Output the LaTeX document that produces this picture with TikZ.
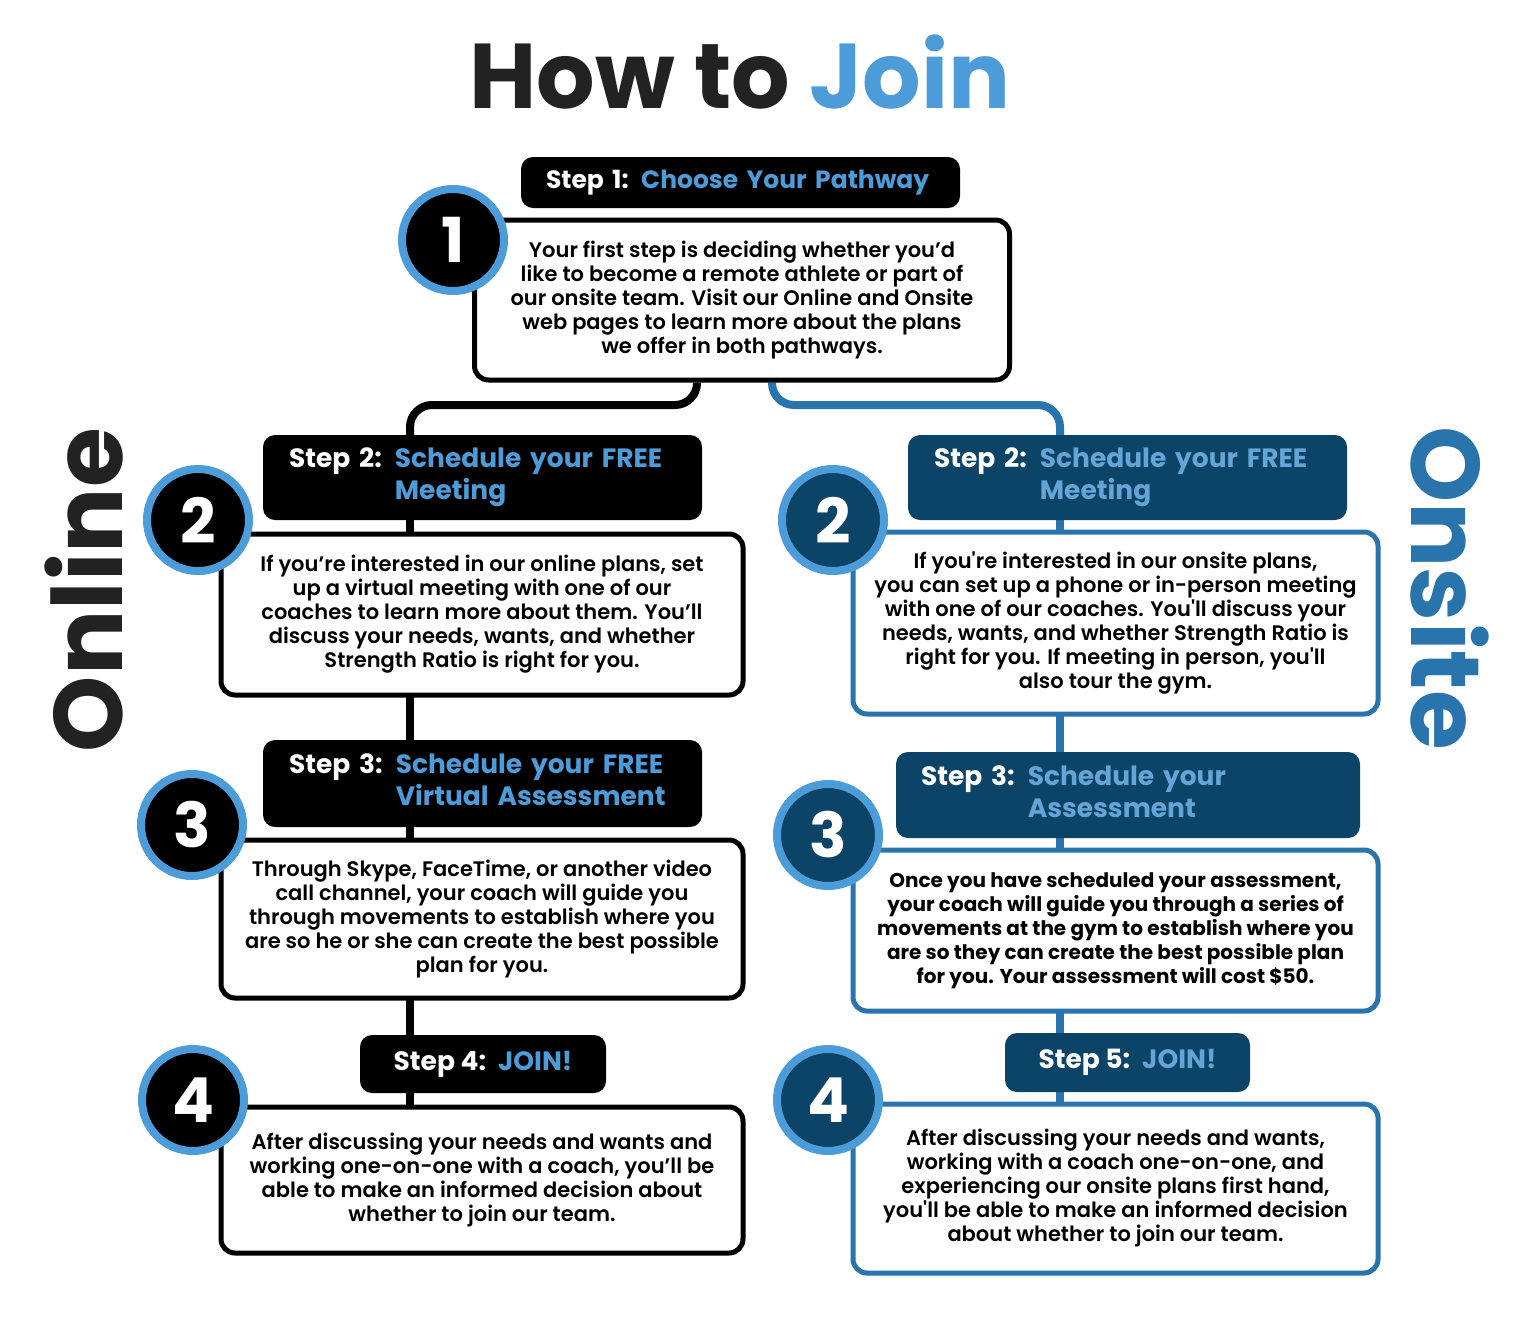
\documentclass[tikz,border=0pt]{standalone}
\usepackage{fontspec}
\setmainfont{Poppins}
\newfontfamily\semi{Poppins SemiBold}
\newfontfamily\bfam{Poppins Bold}
\usetikzlibrary{calc}
\definecolor{lblue}{HTML}{4B9CD8}
\definecolor{navy}{HTML}{0C4467}
\definecolor{mblue}{HTML}{2A74AE}
\definecolor{ink}{HTML}{222222}
\definecolor{ntxt}{HTML}{64A4D6}
\pgfdeclarelayer{back}
\pgfdeclarelayer{bg}
\pgfsetlayers{back,bg,main}
\tikzset{
  txtbox/.style={draw=black, line width=5pt, fill=white, rounded corners=14pt, align=center,
    font=\semi\fontsize{21}{24}\selectfont, text=black, inner sep=0pt},
  obox/.style={txtbox, draw=mblue},
  hdrbox/.style={fill=black, rounded corners=12pt, text=white, align=left,
    font=\bfam\fontsize{26.5}{32}\selectfont, inner sep=0pt},
  ohdr/.style={hdrbox, fill=navy},
  numc/.style={circle, fill=black, draw=lblue, line width=8pt, minimum size=102pt, text=white,
    font=\bfam\fontsize{62}{62}\selectfont, inner sep=0pt},
  onumc/.style={numc, fill=navy},
  bline/.style={line width=8pt, draw=black, rounded corners=22pt},
  oline/.style={line width=8pt, draw=mblue, rounded corners=22pt},
}
\newcommand{\ttl}[1]{\textcolor{lblue}{#1}}
\newcommand{\otl}[1]{\textcolor{ntxt}{#1}}
\begin{document}
\begin{tikzpicture}[x=1pt,y=-1pt]
\begin{pgfonlayer}{back}
\fill[white] (0,0) rectangle (1536,1320);
\end{pgfonlayer}
\useasboundingbox (0,0) rectangle (1536,1320);

% title
\node[font=\bfam\fontsize{92}{92}\selectfont, text=ink] (title) at (740,72) {How to \textcolor{lblue}{Join}};

% side labels
\node[font=\bfam\fontsize{97}{97}\selectfont, text=ink, rotate=90] (online) at (84,590) {Online};
\node[font=\bfam\fontsize{97}{97}\selectfont, text=mblue, rotate=-90] (onsite) at (1450,588) {Onsite};

% step 1
\node[hdrbox, font=\bfam\fontsize{25}{32}\selectfont, minimum width=439pt, minimum height=51pt, text width=389pt] (h1) at (740.5,182.5)
  {Step 1: \ttl{Choose Your Pathway}};
\node[txtbox, minimum width=535pt, minimum height=160pt] (b1) at (742,300)
  {Your first step is deciding whether you’d\\like to become a remote athlete or part of\\our onsite team. Visit our Online and Onsite\\web pages to learn more about the plans\\we offer in both pathways.};
\node[numc] (c1) at (453,240) {1};

% online column
\node[hdrbox, minimum width=439pt, minimum height=85pt, text width=387pt] (hL2) at (482.5,477.5)
  {\begin{tabular}{@{}l@{\hspace{13pt}}l@{}}Step 2: & \ttl{Schedule your FREE}\\ & \ttl{Meeting}\end{tabular}};
\node[txtbox, minimum width=522pt, minimum height=161pt] (bL2) at (482,614.5)
  {If you’re interested in our online plans, set\\up a virtual meeting with one of our\\coaches to learn more about them. You’ll\\discuss your needs, wants, and whether\\Strength Ratio is right for you.};
\node[numc] (cL2) at (198,520) {2};

\node[hdrbox, minimum width=439pt, minimum height=87pt, text width=387pt] (hL3) at (482.5,783.5)
  {\begin{tabular}{@{}l@{\hspace{13pt}}l@{}}Step 3: & \ttl{Schedule your FREE}\\ & \ttl{Virtual Assessment}\end{tabular}};
\node[txtbox, minimum width=522pt, minimum height=158pt] (bL3) at (482,919)
  {Through Skype, FaceTime, or another video\\call channel, your coach will guide you\\through movements to establish where you\\are so he or she can create the best possible\\plan for you.};
\node[numc] (cL3) at (192,825) {3};

\node[hdrbox, minimum width=246pt, minimum height=58pt, align=center] (hL4) at (483,1064)
  {Step 4:\hspace{12pt}\ttl{JOIN!}};
\node[txtbox, minimum width=522pt, minimum height=146pt] (bL4) at (482,1180)
  {After discussing your needs and wants and\\working one-on-one with a coach, you’ll be\\able to make an informed decision about\\whether to join our team.};
\node[numc] (cL4) at (193,1100) {4};

% onsite column
\node[ohdr, minimum width=439pt, minimum height=85pt, text width=387pt] (hR2) at (1127.5,477.5)
  {\begin{tabular}{@{}l@{\hspace{13pt}}l@{}}Step 2: & \otl{Schedule your FREE}\\ & \otl{Meeting}\end{tabular}};
\node[obox, minimum width=525pt, minimum height=182pt] (bR2) at (1115.5,623)
  {If you're interested in our onsite plans,\\you can set up a phone or in-person meeting\\with one of our coaches. You'll discuss your\\needs, wants, and whether Strength Ratio is\\right for you. If meeting in person, you'll\\also tour the gym.};
\node[onumc] (cR2) at (833,520) {2};

\node[ohdr, minimum width=464pt, minimum height=86pt, text width=414pt] (hR3) at (1128,795)
  {\begin{tabular}{@{}l@{\hspace{13pt}}l@{}}Step 3: & \otl{Schedule your}\\ & \otl{Assessment}\end{tabular}};
\node[obox, minimum width=525pt, minimum height=161pt, font=\bfam\fontsize{20}{24}\selectfont] (bR3) at (1115.5,930.5)
  {Once you have scheduled your assessment,\\your coach will guide you through a series of\\movements at the gym to establish where you\\are so they can create the best possible plan\\for you. Your assessment will cost \$50.};
\node[onumc] (cR3) at (828,835) {3};

\node[ohdr, minimum width=245pt, minimum height=59pt, align=center] (hR5) at (1127.5,1062.5)
  {Step 5:\hspace{12pt}\otl{JOIN!}};
\node[obox, minimum width=525pt, minimum height=169pt] (bR4) at (1115.5,1188.5)
  {After discussing your needs and wants,\\working with a coach one-on-one, and\\experiencing our onsite plans first hand,\\you'll be able to make an informed decision\\about whether to join our team.};
\node[onumc] (cR4) at (828,1100) {4};

% connectors
\coordinate (lx) at (410,0);
\coordinate (rx) at (1060,0);
\coordinate (lb) at (697,0);
\coordinate (rb) at (772,0);
\coordinate (my) at (0,405);
\begin{pgfonlayer}{bg}
  \draw[bline] (b1.south -| lb) -- (lb |- my) -- (lx |- my) -- (hL2.north -| lx);
  \draw[oline] (b1.south -| rb) -- (rb |- my) -- (rx |- my) -- (hR2.north -| rx);
  \draw[line width=8pt, black] (hL2.south -| lx) -- (bL4.north -| lx);
  \draw[line width=8pt, mblue] (hR2.south -| rx) -- (bR4.north -| rx);
\end{pgfonlayer}
\end{tikzpicture}
\end{document}
